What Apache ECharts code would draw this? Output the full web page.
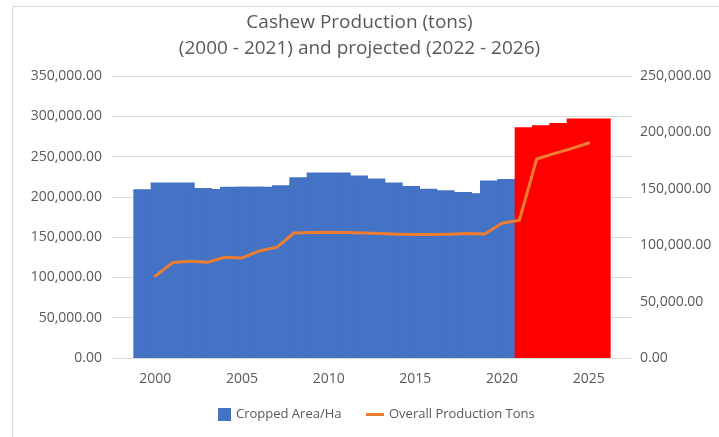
<!DOCTYPE html>
<html>
<head>
<meta charset="utf-8">
<script src="https://cdn.jsdelivr.net/npm/echarts@6/dist/echarts.min.js"></script>
<style>
html,body{margin:0;padding:0;background:#ffffff;}
#chart{width:719px;height:437px;}
</style>
</head>
<body>
<div id="chart"></div>
<script>
// ---- data ----
const axisYears = ['1998','1999','2000','2001','2002','2003','2004','2005','2006','2007',
  '2008','2009','2010','2011','2012','2013','2014','2015','2016','2017',
  '2018','2019','2020','2021','2022','2023','2024','2025','2026','2027'];
const years = ['2000','2001','2002','2003','2004','2005','2006','2007','2008','2009',
  '2010','2011','2012','2013','2014','2015','2016','2017','2018','2019',
  '2020','2021','2022','2023','2024','2025'];
const croppedArea = [209400, 217700, 211000, 209700, 209500, 212500, 212500, 211000, 214300, 224300,
  230100, 226500, 222700, 217700, 213500, 210200, 208100, 206000, 204400, 204000,
  220200, 222200, 286300, 288800, 291700, 297100];
const production = [72700, 84600, 85700, 84800, 89300, 88700, 94900, 98100, 110800, 111200,
  111400, 111200, 110800, 110300, 109700, 109400, 109400, 109700, 110300, 109900,
  119400, 122100, 176400, 181200, 185600, 190600];
const projectedYears = ['2022','2023','2024','2025'];
const titleLines = ['Cashew Production (tons)', '(2000 - 2021) and projected (2022 - 2026)'];
const seriesNames = ['Cropped Area/Ha', 'Overall Production Tons'];

// ---- styles ----
const BLUE = '#4472C4', RED = '#FF0000', ORANGE = '#ED7D31';
const TXT = '#595959', GRID = '#D9D9D9';
const FONT = 'Open Sans';
const fmt = v => Number(v).toLocaleString('en-US', {minimumFractionDigits: 2, maximumFractionDigits: 2});

const barData = axisYears.map(y => {
  const i = years.indexOf(y);
  if (i < 0) return '-';
  return projectedYears.includes(y)
    ? {value: croppedArea[i], itemStyle: {color: RED}}
    : {value: croppedArea[i]};
});
const lineData = axisYears.map(y => {
  const i = years.indexOf(y);
  return i < 0 ? '-' : production[i];
});

const chart = echarts.init(document.getElementById('chart'), null, {renderer: 'canvas'});
chart.setOption({
  animation: false,
  backgroundColor: '#ffffff',
  textStyle: {fontFamily: FONT},
  graphic: [{
    type: 'rect', silent: true, z: -10,
    shape: {x: 12.5, y: 6.5, width: 800, height: 500},
    style: {fill: 'none', stroke: GRID, lineWidth: 1}
  }],
  title: {
    text: titleLines.join('\n'),
    left: 'center', top: 5,
    textStyle: {fontFamily: FONT, fontSize: 19, fontWeight: 'normal', color: TXT, lineHeight: 26}
  },
  legend: [{
    data: [seriesNames[0]], left: 218, top: 408, padding: 0,
    icon: 'rect', itemWidth: 13, itemHeight: 13,
    textStyle: {fontFamily: FONT, fontSize: 13, color: TXT}
  }, {
    data: [seriesNames[1]], left: 366, top: 408, padding: 0,
    icon: 'rect', itemWidth: 18, itemHeight: 3,
    textStyle: {fontFamily: FONT, fontSize: 13, color: TXT}
  }],
  grid: {left: 112, right: 87, top: 76, bottom: 79},
  xAxis: {
    type: 'category', data: axisYears, boundaryGap: true,
    axisLine: {lineStyle: {color: GRID}},
    axisTick: {show: false},
    axisLabel: {
      interval: (idx, val) => Number(val) % 5 === 0,
      color: TXT, fontSize: 14, fontFamily: FONT, margin: 14
    }
  },
  yAxis: [{
    type: 'value', min: 0, max: 350000, interval: 50000,
    axisLine: {show: false}, axisTick: {show: false},
    splitLine: {lineStyle: {color: GRID, width: 1}},
    axisLabel: {formatter: fmt, color: TXT, fontSize: 14, fontFamily: FONT, margin: 10}
  }, {
    type: 'value', min: 0, max: 250000, interval: 50000,
    axisLine: {show: false}, axisTick: {show: false},
    splitLine: {show: false},
    axisLabel: {formatter: fmt, color: TXT, fontSize: 14, fontFamily: FONT, margin: 8}
  }],
  series: [{
    name: seriesNames[0], type: 'bar', data: barData,
    barWidth: 44, itemStyle: {color: BLUE}
  }, {
    name: seriesNames[1], type: 'line', yAxisIndex: 1, data: lineData,
    showSymbol: false, symbol: 'none', smooth: false,
    itemStyle: {color: ORANGE},
    lineStyle: {color: ORANGE, width: 3, cap: 'round', join: 'round'}
  }]
});
</script>
</body>
</html>
